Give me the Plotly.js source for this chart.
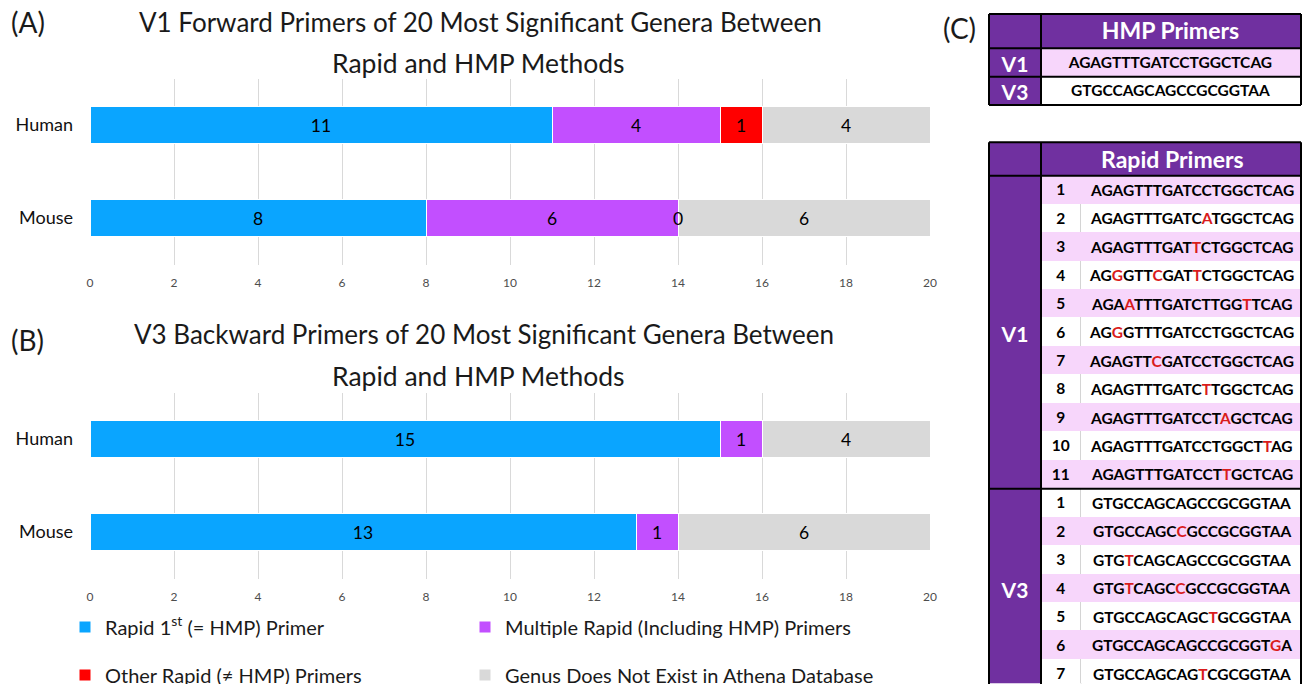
<!DOCTYPE html>
<html><head><meta charset="utf-8">
<script src="https://cdn.plot.ly/plotly-3.0.1.min.js"></script>
<style>html,body{margin:0;padding:0;background:#fff;}#chart{width:1303px;height:684px;}</style>
</head><body><div id="chart"></div>
<script>
// ---------------- data ----------------
const hosts = ['Human', 'Mouse'];
const seriesNames = [
  'Rapid 1<sup>st</sup> (= HMP) Primer',
  'Multiple Rapid (Including HMP) Primers',
  'Other Rapid (\u2260 HMP) Primers',
  'Genus Does Not Exist in Athena Database'
];
// (A) V1 forward primers
const v1Rapid1st = [11, 8];
const v1Multiple = [4, 6];
const v1Other    = [1, 0];
const v1NotInDb  = [4, 6];
// (B) V3 backward primers (no "other rapid" category shown)
const v3Rapid1st = [15, 13];
const v3Multiple = [1, 1];
const v3Other    = [null, null];
const v3NotInDb  = [4, 6];
const xTickVals = [0, 2, 4, 6, 8, 10, 12, 14, 16, 18, 20];

const chartTitlesA = ['V1 Forward Primers of 20 Most Significant Genera Between', 'Rapid and HMP Methods'];
const chartTitlesB = ['V3 Backward Primers of 20 Most Significant Genera Between', 'Rapid and HMP Methods'];
const panelLabels = ['(A)', '(B)', '(C)'];

// (C) tables
const hmpHeader = 'HMP Primers';
const rapidHeader = 'Rapid Primers';
const hmpRegions = ['V1', 'V3'];
const hmpPrimers = ['AGAGTTTGATCCTGGCTCAG', 'GTGCCAGCAGCCGCGGTAA'];
// lower-case letters mark bases printed in red
const v1RapidPrimers = [
  'AGAGTTTGATCCTGGCTCAG',
  'AGAGTTTGATCaTGGCTCAG',
  'AGAGTTTGATtCTGGCTCAG',
  'AGgGTTcGATtCTGGCTCAG',
  'AGAaTTTGATCTTGGtTCAG',
  'AGgGTTTGATCCTGGCTCAG',
  'AGAGTTcGATCCTGGCTCAG',
  'AGAGTTTGATCtTGGCTCAG',
  'AGAGTTTGATCCTaGCTCAG',
  'AGAGTTTGATCCTGGCTtAG',
  'AGAGTTTGATCCTtGCTCAG'
];
const v3RapidPrimers = [
  'GTGCCAGCAGCCGCGGTAA',
  'GTGCCAGCcGCCGCGGTAA',
  'GTGtCAGCAGCCGCGGTAA',
  'GTGtCAGCcGCCGCGGTAA',
  'GTGCCAGCAGCtGCGGTAA',
  'GTGCCAGCAGCCGCGGTgA',
  'GTGCCAGCAGtCGCGGTAA'
];

// ---------------- styling / geometry ----------------
const W = 1303, H = 684;
const fx = p => p / W;
const fy = p => 1 - p / H;
const FONT = 'Lato, "Open Sans", "DejaVu Sans", sans-serif';
const barColors = ['#0AA5FF', '#C24FFF', '#FF0000', '#D9D9D9'];
const PURPLE = '#7030A0', PINK = '#F7D6FB', RED = '#D91C1C', DIVGRAY = '#D4D4D4';
const NB = '\u00a0';
const legendIds = ['legend', 'legend2', 'legend3', 'legend4'];

const traces = [];
const annotations = [];

function addBars(series, xa, ya, showLegend) {
  series.forEach((vals, k) => {
    if (vals.every(v => v === null)) return;
    traces.push({
      type: 'bar', orientation: 'h', name: seriesNames[k],
      x: vals, y: hosts, xaxis: xa, yaxis: ya,
      marker: {color: barColors[k], line: {color: '#ffffff', width: 1}},
      text: vals.map(v => (v === null || v === 0) ? '' : String(v)),
      textposition: 'inside', insidetextanchor: 'middle', constraintext: 'none',
      insidetextfont: {family: FONT, size: 17.5, color: '#000'},
      hoverinfo: 'skip', showlegend: showLegend,
      legend: legendIds[k]
    });
    // zero-length segments: label drawn on top at the stacked position
    vals.forEach((v, i) => {
      if (v !== 0) return;
      let base = 0;
      for (let j = 0; j < k; j++) base += series[j][i] || 0;
      annotations.push({xref: xa, yref: ya, x: base, y: hosts[i], text: String(v), showarrow: false,
        xanchor: 'center', yanchor: 'middle', font: {family: FONT, size: 17.5, color: '#000'}});
    });
  });
}
addBars([v1Rapid1st, v1Multiple, v1Other, v1NotInDb], 'x', 'y', true);
addBars([v3Rapid1st, v3Multiple, v3Other, v3NotInDb], 'x2', 'y2', false);

// ---- tables ----
const tblLeft = 989, tblRight = 1301, col1W = 52, col2W = 40, divW = 1.2;
const col3W = tblRight - tblLeft - col1W - col2W - divW;
const hmpTop = 14, hmpHeaderH = 34.3, hmpRowH = 28.4;
const rapTop = 142.3, rapHeaderH = 33.4, rapRowH = 28.45;

function seqHtml(s) {
  return '<b>' + s.split('').map(c => c === c.toLowerCase()
    ? '<span style="color:' + RED + '">' + c.toUpperCase() + '</span>' : c).join('') + '</b>';
}
const noSpace = s => s.replace(/ /g, NB);

// HMP table
const hmpFill = hmpPrimers.map((_, i) => i % 2 === 0 ? PINK : '#ffffff');
traces.push({
  type: 'table',
  domain: {x: [fx(tblLeft), fx(tblRight)], y: [fy(hmpTop + hmpHeaderH + hmpRowH * hmpPrimers.length), fy(hmpTop)]},
  columnwidth: [col1W, tblRight - tblLeft - col1W],
  header: {
    values: [[''], [noSpace(hmpHeader)]],
    fill: {color: PURPLE}, line: {color: PURPLE, width: 1},
    font: {family: FONT, size: 23, color: '#ffffff', weight: 'bold'}, align: 'center', height: hmpHeaderH
  },
  cells: {
    values: [hmpRegions, hmpPrimers],
    fill: {color: [hmpRegions.map(() => PURPLE), hmpFill]},
    line: {color: [hmpRegions.map(() => PURPLE), hmpFill], width: 1},
    font: {family: FONT, size: [21, 15.5], color: ['#ffffff', '#000000'], weight: 'bold'},
    align: 'center', height: hmpRowH
  }
});

// Rapid table (sequence text is placed on top via annotations so that single bases can be red)
const allRapid = v1RapidPrimers.concat(v3RapidPrimers);
const regionCol = allRapid.map(() => '');
regionCol[Math.floor(v1RapidPrimers.length / 2)] = 'V1';
regionCol[v1RapidPrimers.length + Math.floor(v3RapidPrimers.length / 2)] = 'V3';
const numCol = v1RapidPrimers.map((_, i) => String(i + 1)).concat(v3RapidPrimers.map((_, i) => String(i + 1)));
const rowFill = allRapid.map((_, i) => i % 2 === 0 ? PINK : '#ffffff');
const divFill = allRapid.map((_, i) => i % 2 === 0 ? PINK : DIVGRAY);
traces.push({
  type: 'table',
  domain: {x: [fx(tblLeft), fx(tblRight)], y: [0, fy(rapTop)]},
  columnwidth: [col1W, col2W, divW, col3W],
  header: {
    values: [[''], [''], [''], [NB + NB + noSpace(rapidHeader)]],
    fill: {color: PURPLE}, line: {color: PURPLE, width: 1},
    font: {family: FONT, size: 23, color: '#ffffff', weight: 'bold'}, align: ['center', 'center', 'center', 'left'], height: rapHeaderH
  },
  cells: {
    values: [regionCol, numCol, allRapid.map(() => ''), allRapid.map(() => '')],
    fill: {color: [allRapid.map(() => PURPLE), rowFill, divFill, rowFill]},
    line: {color: [allRapid.map(() => PURPLE), rowFill, divFill, rowFill], width: 1},
    font: {family: FONT, size: [21, 15.5, 10, 15], color: ['#ffffff', '#000000', '#000000', '#000000'], weight: 'bold'},
    align: 'center', height: rapRowH
  }
});

// sequence texts of the rapid table, on an invisible axis pair that maps row index -> row
const seqColLeft = tblLeft + col1W + col2W + divW;
const rapBodyTop = rapTop + rapHeaderH;
allRapid.forEach((s, i) => {
  annotations.push({xref: 'x3', yref: 'y3', x: 0, y: i, text: seqHtml(s), showarrow: false,
    xanchor: 'center', yanchor: 'middle', font: {family: FONT, size: 15.5, color: '#000'}});
});

// black frame lines of the tables (derived from table geometry)
const shapes = [];
function hline(y, x0, x1) { shapes.push({type: 'line', xref: 'paper', yref: 'paper', x0: fx(x0), x1: fx(x1), y0: fy(y), y1: fy(y), line: {color: '#000', width: 2}}); }
function vline(x, y0, y1) { shapes.push({type: 'line', xref: 'paper', yref: 'paper', x0: fx(x), x1: fx(x), y0: fy(y0), y1: fy(y1), line: {color: '#000', width: 2}}); }
{
  const bottom = hmpTop + hmpHeaderH + hmpRowH * hmpPrimers.length;
  hline(hmpTop, tblLeft, tblRight); hline(bottom, tblLeft, tblRight);
  hline(hmpTop + hmpHeaderH, tblLeft, tblRight);
  for (let i = 1; i < hmpPrimers.length; i++) hline(hmpTop + hmpHeaderH + hmpRowH * i, tblLeft, tblRight);
  vline(tblLeft, hmpTop, bottom); vline(tblRight, hmpTop, bottom); vline(tblLeft + col1W, hmpTop, bottom);
}
{
  const bottom = rapBodyTop + rapRowH * allRapid.length;
  hline(rapTop, tblLeft, tblRight);
  hline(rapBodyTop, tblLeft, tblRight);
  hline(rapBodyTop + rapRowH * v1RapidPrimers.length, tblLeft, tblRight);
  vline(tblLeft, rapTop, bottom); vline(tblRight, rapTop, bottom); vline(tblLeft + col1W, rapTop, bottom);
}

// ---- titles / panel letters ----
function txt(t, x, y, size, anchor) {
  annotations.push({text: t, xref: 'paper', yref: 'paper', x: fx(x), y: fy(y), xanchor: anchor || 'center', yanchor: 'middle',
    showarrow: false, font: {family: FONT, size: size, color: '#1a1a1a'}});
}
txt(chartTitlesA[0], 480, 22, 26); txt(chartTitlesA[1], 479, 63, 26.5);
txt(chartTitlesB[0], 484, 334, 26); txt(chartTitlesB[1], 479, 376, 26.5);
txt(panelLabels[0], 9, 22, 28, 'left');
txt(panelLabels[1], 9, 340, 28, 'left');
txt(panelLabels[2], 941, 28, 28, 'left');

function xAxis(anchor) {
  return {domain: [fx(90), fx(930)], range: [0, 20], tickvals: xTickVals, anchor: anchor,
    showgrid: true, gridcolor: '#D9D9D9', gridwidth: 1, zeroline: false, showline: false, ticks: '',
    tickfont: {family: FONT, size: 12, color: '#4d4d4d'}, ticklabelstandoff: 9, fixedrange: true};
}
function yAxis(anchor, top, bottom) {
  return {domain: [fy(bottom), fy(top)], type: 'category', autorange: 'reversed', anchor: anchor,
    showgrid: false, zeroline: false, showline: false, ticks: '',
    tickfont: {family: FONT, size: 18, color: '#111'}, ticklabelstandoff: 16, fixedrange: true};
}
// one legend per entry: 2 columns x 2 rows
const legendCols = [65, 465], legendRows = [627, 675];
const layoutLegends = {};
legendIds.forEach((id, k) => {
  layoutLegends[id] = {orientation: 'h', xanchor: 'left', yanchor: 'middle',
    x: fx(legendCols[k % 2]), y: fy(legendRows[Math.floor(k / 2)]),
    font: {family: FONT, size: 20, color: '#1a1a1a'}, bgcolor: 'rgba(0,0,0,0)',
    itemclick: false, itemdoubleclick: false};
});

const layout = Object.assign({
  width: W, height: H, margin: {l: 0, r: 0, t: 0, b: 0, autoexpand: false},
  paper_bgcolor: '#ffffff', plot_bgcolor: 'rgba(0,0,0,0)',
  barmode: 'stack', bargap: 0.606, hovermode: false,
  font: {family: FONT},
  xaxis: xAxis('y'), yaxis: yAxis('x', 78.5, 264.5),
  xaxis2: xAxis('y2'), yaxis2: yAxis('x2', 392.5, 578.5),
  xaxis3: {domain: [fx(seqColLeft), fx(tblRight)], range: [-1, 1], visible: false, fixedrange: true, anchor: 'y3'},
  yaxis3: {domain: [0, fy(rapBodyTop)], range: [(H - rapBodyTop) / rapRowH - 0.5, -0.5], visible: false, fixedrange: true, anchor: 'x3'},
  shapes: shapes, annotations: annotations
}, layoutLegends);
Plotly.newPlot('chart', traces, layout, {displayModeBar: false, responsive: false});
</script></body></html>
